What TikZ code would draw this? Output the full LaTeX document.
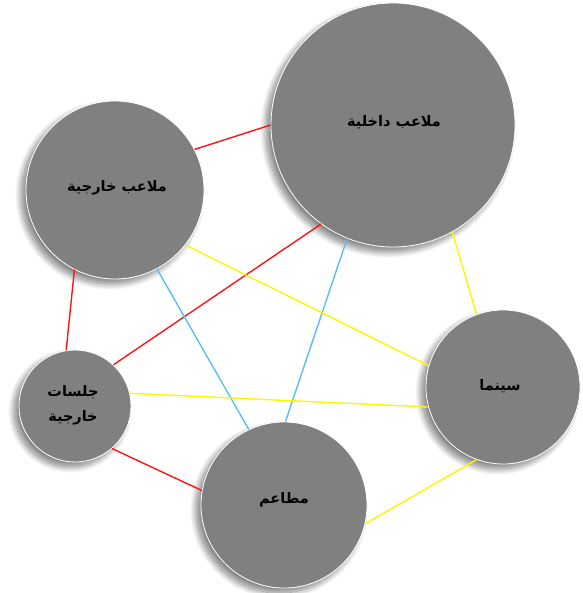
\documentclass[tikz,border=0pt]{standalone}
\usepackage{fontspec}
\usetikzlibrary{shadows.blur}
\newfontfamily\arabicfont[Script=Arabic]{DejaVu Sans}
\TeXXeTstate=1
\definecolor{circgray}{RGB}{128,128,128}
\definecolor{lnred}{RGB}{255,20,20}
\definecolor{lnblue}{RGB}{90,190,240}
\definecolor{lnyellow}{RGB}{255,245,0}
\tikzset{
  bubble/.style={circle, fill=circgray, draw=white, line width=0.8pt, inner sep=0pt,
    blur shadow={shadow xshift=-5pt, shadow yshift=-5pt, shadow blur radius=6pt, shadow blur steps=14, shadow opacity=50}},
  lbl/.style={font=\arabicfont\bfseries\fontsize{14.5}{25}\selectfont, text=black, align=center, inner sep=0pt},
  redln/.style={draw=lnred, line width=1.4pt},
  blueln/.style={draw=lnblue, line width=1.4pt},
  yellowln/.style={draw=lnyellow, line width=1.4pt}
}
\begin{document}
\begin{tikzpicture}[x=1pt,y=-1pt]
\useasboundingbox (0,0) rectangle (582,593);
\node[bubble, minimum size=244pt] (A) at (393,125) {};
\node[bubble, minimum size=178pt] (B) at (115,190) {};
\node[bubble, minimum size=112pt] (C) at (75,406) {};
\node[bubble, minimum size=166pt] (D) at (284,505) {};
\node[bubble, minimum size=154pt] (E) at (503,387) {};
% connectors
\draw[redln] (B.27) -- (A.180);
\draw[redln] (B.243) -- (C.99);
\draw[redln] (C.47) -- (A.234);
\draw[redln] (C.-49) -- (D.170);
\draw[blueln] (B.-62) -- (D.115);
\draw[blueln] (A.-112) -- (D.89);
\draw[yellowln] (B.-38) -- (E.164);
\draw[yellowln] (A.-61) -- (E.110);
\draw[yellowln] (C.13) -- (E.195);
\draw[yellowln] (D.-13) -- (E.-110);
% labels
\node[lbl] (tA) at (394,122) {\beginR ملاعب داخلية\endR};
\node[lbl] (tB) at (117,188) {\beginR ملاعب خارجية\endR};
\node[lbl] (tC) at (73,405) {\beginR جلسات\endR\\\beginR خارجية\endR};
\node[lbl] (tD) at (284,500) {\beginR مطاعم\endR};
\node[lbl] (tE) at (500,386) {\beginR سينما\endR};
\end{tikzpicture}
\end{document}
